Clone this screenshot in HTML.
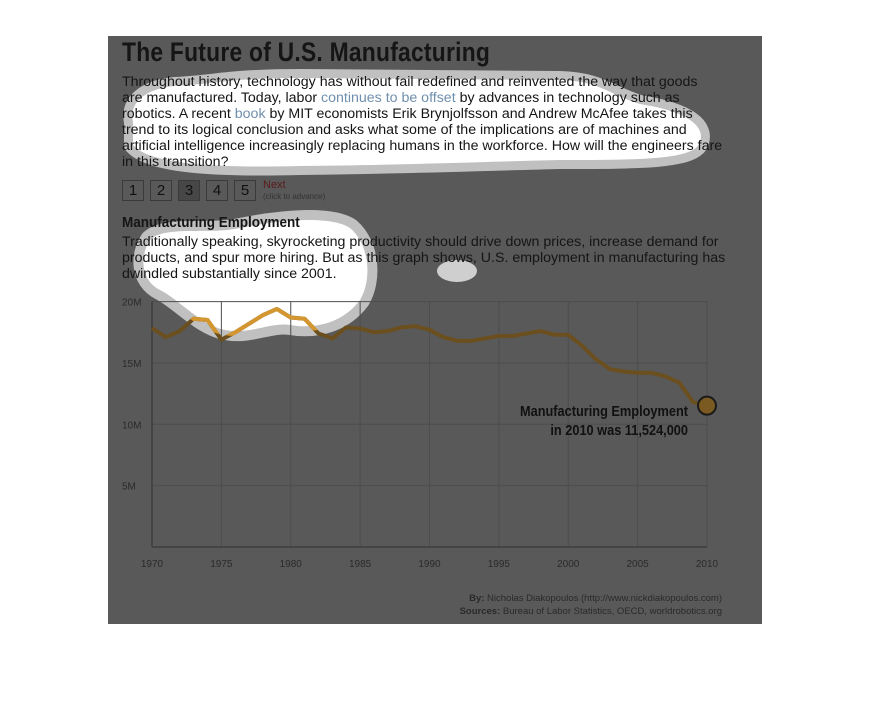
<!DOCTYPE html>
<html><head><meta charset="utf-8">
<style>
body{margin:0;width:870px;height:718px;background:#fff;position:relative;overflow:hidden;font-family:"Liberation Sans",sans-serif}
#card{position:absolute;left:108px;top:36px;width:654px;height:588px;background:#595959}
.t{position:absolute;color:#151515;white-space:nowrap}
#title{left:122px;top:37px;font-size:27px;font-weight:bold;transform:scaleX(0.845);transform-origin:left top;letter-spacing:0.3px}
.p{font-size:14.2px;line-height:16px}
.lnk{color:#6f8fae}
.pg{position:absolute;top:180px;width:20px;height:19px;border:1px solid #3a3a3a;font-size:15px;text-align:center;line-height:19px;color:#111}
</style></head><body>
<div id="card"></div>
<svg width="870" height="718" style="position:absolute;left:0;top:0">
<defs>
<clipPath id="bclip"><path transform="translate(255,278) scale(1.09) translate(-255,-278)" d="M150,240 C165,225 210,235 240,228 C280,220 330,215 350,228 C370,245 372,280 360,300 C345,320 320,330 290,325 C270,322 250,335 225,330 C200,325 180,300 160,290 C140,280 140,255 150,240 Z"/></clipPath>
</defs>
<g>
<path d="M133,122 C128,100 150,88 175,86 C215,84 230,78 300,78 L560,80 C600,81 610,95 640,104 C690,112 705,127 700,142 C695,160 640,160 560,160 C480,162 400,165 300,166 C220,168 150,165 133,145 Z" fill="#fff" stroke="#c0c0c0" stroke-width="18" stroke-linejoin="round"/>
<path d="M133,122 C128,100 150,88 175,86 C215,84 230,78 300,78 L560,80 C600,81 610,95 640,104 C690,112 705,127 700,142 C695,160 640,160 560,160 C480,162 400,165 300,166 C220,168 150,165 133,145 Z" fill="#fff"/>
</g>
<g>
<path d="M150,240 C165,225 210,235 240,228 C280,220 330,215 350,228 C370,245 372,280 360,300 C345,320 320,330 290,325 C270,322 250,335 225,330 C200,325 180,300 160,290 C140,280 140,255 150,240 Z" fill="#c0c0c0" stroke="#c0c0c0" stroke-width="20" stroke-linejoin="round"/>
<path d="M150,240 C165,225 210,235 240,228 C280,220 330,215 350,228 C370,245 372,280 360,300 C345,320 320,330 290,325 C270,322 250,335 225,330 C200,325 180,300 160,290 C140,280 140,255 150,240 Z" fill="#fff"/>
</g>
<ellipse cx="457" cy="271" rx="20" ry="11" fill="#cfcfcf"/>
<g id="grid"></g>
<g id="lines"></g>
<g id="ticks"></g>
</svg>

<div class="t" id="title">The Future of U.S. Manufacturing</div>
<div class="t p" style="left:122px;top:74px">Throughout history, technology has without fail redefined and reinvented the way that goods<br>are manufactured. Today, labor <span class="lnk">continues to be offset</span> by advances in technology such as<br>robotics. A recent <span class="lnk">book</span> by MIT economists Erik Brynjolfsson and Andrew McAfee takes this<br>trend to its logical conclusion and asks what some of the implications are of machines and<br>artificial intelligence increasingly replacing humans in the workforce. How will the engineers fare<br>in this transition?</div>
<div class="pg" style="left:122px">1</div>
<div class="pg" style="left:150px">2</div>
<div class="pg" style="left:178px;background:#474747">3</div>
<div class="pg" style="left:206px">4</div>
<div class="pg" style="left:234px">5</div>
<div class="t" style="left:263px;top:179px;font-size:11px;color:#5a1a1a">Next</div>
<div class="t" style="left:263px;top:192px;font-size:8px;color:#333">(click to advance)</div>
<div class="t" style="left:122px;top:214px;font-size:15px;font-weight:bold;transform:scaleX(0.9);transform-origin:left top">Manufacturing Employment</div>
<div class="t p" style="left:122px;top:234px">Traditionally speaking, skyrocketing productivity should drive down prices, increase demand for<br>products, and spur more hiring. But as this graph shows, U.S. employment in manufacturing has<br>dwindled substantially since 2001.</div>
<div class="t" style="top:403px;font-size:14.5px;font-weight:bold;color:#111;text-align:right;line-height:19px;transform:scaleX(0.88);transform-origin:right top;width:220px;left:468px">Manufacturing Employment<br>in 2010 was 11,524,000</div>
<div class="t" style="left:420px;top:592px;font-size:9.5px;color:#2a2a2a;text-align:right;width:302px;line-height:13px"><b>By:</b> Nicholas Diakopoulos (http://www.nickdiakopoulos.com)<br><b>Sources:</b> Bureau of Labor Statistics, OECD, worldrobotics.org</div>

<script>
const years=[1970,1971,1972,1973,1974,1975,1976,1977,1978,1979,1980,1981,1982,1983,1984,1985,1986,1987,1988,1989,1990,1991,1992,1993,1994,1995,1996,1997,1998,1999,2000,2001,2002,2003,2004,2005,2006,2007,2008,2009,2010];
const employment=[17.85,17.1,17.6,18.6,18.5,16.9,17.5,18.2,18.9,19.4,18.7,18.6,17.4,17.0,17.9,17.8,17.5,17.6,17.9,18.0,17.7,17.1,16.8,16.8,17.0,17.2,17.2,17.4,17.6,17.3,17.3,16.4,15.3,14.5,14.3,14.2,14.2,13.9,13.4,11.8,11.52];
const xTicks=[1970,1975,1980,1985,1990,1995,2000,2005,2010];
const yTicks=[5,10,15,20];
const yTickLabels=["5M","10M","15M","20M"];
const NS="http://www.w3.org/2000/svg";
const X=y=>152+(y-1970)*(707-152)/40;
const Y=v=>547-v*12.27;
function mk(tag,attrs,parent){const e=document.createElementNS(NS,tag);for(const k in attrs)e.setAttribute(k,attrs[k]);parent.appendChild(e);return e;}
const grid=document.getElementById('grid'),lines=document.getElementById('lines'),ticks=document.getElementById('ticks');
xTicks.forEach(t=>{const l=mk('line',{x1:X(t),x2:X(t),y1:Y(20),y2:Y(0),stroke:'#4d4d4d','stroke-width':1},grid);


const tx=mk('text',{x:X(t),y:567,'text-anchor':'middle','font-size':10,fill:'#2a2a2a','font-family':'Liberation Sans, sans-serif'},ticks);tx.textContent=t;

});
yTicks.forEach((t,i)=>{const l=mk('line',{x1:X(1970),x2:X(2010),y1:Y(t),y2:Y(t),stroke:'#4d4d4d','stroke-width':1},grid);


const tx=mk('text',{x:122,y:Y(t)+4,'font-size':10,fill:'#2a2a2a','font-family':'Liberation Sans, sans-serif'},ticks);tx.textContent=yTickLabels[i];

});
const ax=mk('line',{x1:X(1970),x2:X(2010),y1:Y(0),y2:Y(0),stroke:'#444','stroke-width':2},grid);


const ay=mk('line',{x1:X(1970),x2:X(1970),y1:Y(20),y2:Y(0),stroke:'#444','stroke-width':2},grid);


const pts=years.map((y,i)=>X(y)+','+Y(employment[i])).join(' ');
const pl=mk('polyline',{points:pts,fill:'none',stroke:'#6b4f1f','stroke-width':4,'stroke-linejoin':'round'},lines);


const pl2=mk('polyline',{points:pts,fill:'none',stroke:'#d4962f','stroke-width':4,'stroke-linejoin':'round','clip-path':'url(#bclip)'},lines);


const n=years.length-1;
const c=mk('circle',{cx:X(years[n]),cy:Y(employment[n]),r:9,fill:'#7a5a20',stroke:'#1a1a1a','stroke-width':2},lines);


</script>
</body></html>
